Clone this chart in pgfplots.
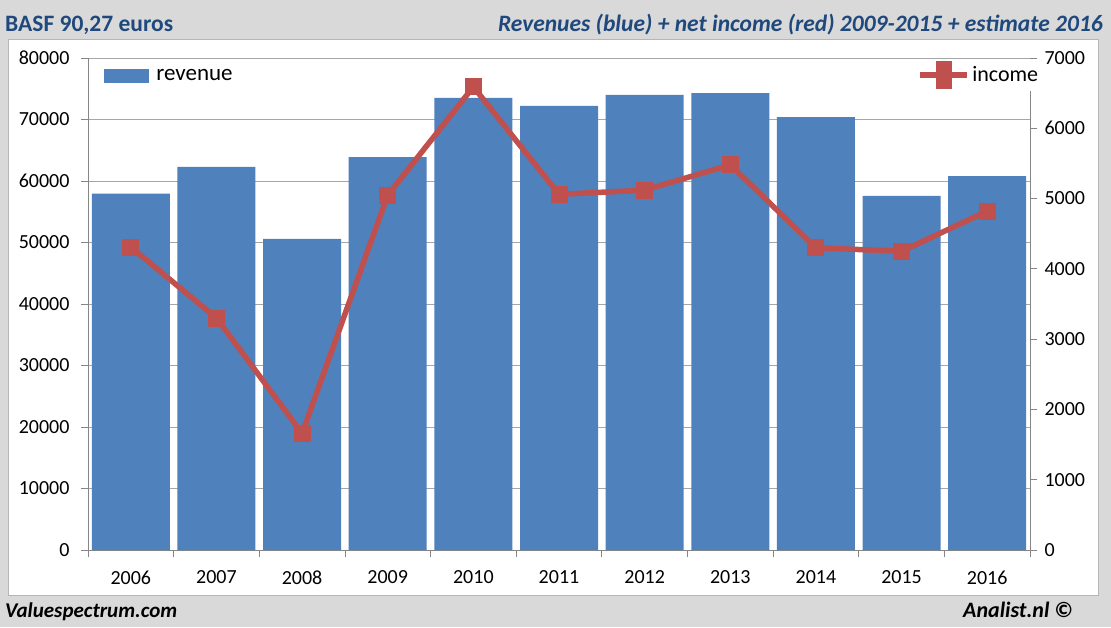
\documentclass[border=0pt]{standalone}
\usepackage{pgfplots}
\pgfplotsset{compat=1.18}
\usepackage{fontspec}
\setmainfont{Carlito}
\definecolor{bg}{HTML}{D9D9D9}
\definecolor{titleblue}{HTML}{1F497D}
\definecolor{barblue}{HTML}{4F81BD}
\definecolor{linered}{HTML}{C0504D}
\definecolor{gridgray}{HTML}{A6A6A6}
\definecolor{axgray}{HTML}{868686}
\begin{document}
\begin{tikzpicture}
\fill[bg] (0pt,0pt) rectangle (1111pt,627pt);
\fill[white,draw=axgray!60] (8pt,32pt) rectangle (1098pt,587.5pt);
\node[anchor=base west, font=\fontsize{23.5}{28}\selectfont\bfseries, text=titleblue, inner sep=0] at (5pt,595pt) {BASF 90,27 euros};
\node[anchor=base east, font=\fontsize{23.5}{28}\selectfont\bfseries\itshape, text=titleblue, inner sep=0] at (1103pt,595pt) {Revenues (blue) + net income (red) 2009-2015 + estimate 2016};
\node[anchor=base west, font=\fontsize{21}{25}\selectfont\bfseries\itshape, text=black, inner sep=0] at (5pt,10pt) {Valuespectrum.com};
\node[anchor=base east, font=\fontsize{22}{26}\selectfont\bfseries\itshape, text=black, inner sep=0] at (1073pt,10pt) {Analist.nl ©};

\begin{axis}[
  at={(88pt,77pt)}, anchor=south west, scale only axis,
  width=942pt, height=492pt,
  xmin=-0.5, xmax=10.5, ymin=0, ymax=80000,
  axis y line*=left, axis x line*=bottom,
  axis line style={axgray, line width=0.8pt},
  ytick={0,10000,...,80000},
  ymajorgrids, grid style={gridgray, line width=1pt},
  xtick={0,...,10},
  xticklabels={2006,2007,2008,2009,2010,2011,2012,2013,2014,2015,2016},
  major x tick style={draw=none},
  minor xtick={-0.5,0.5,...,10.5},
  minor x tick style={axgray, line width=0.8pt},
  minor tick length=7pt,
  major tick length=7pt,
  tick align=outside,
  ytick style={axgray, line width=0.8pt},
  scaled y ticks=false,
  ticklabel style={font=\fontsize{20}{24}\selectfont},
  xticklabel style={yshift=-10pt},
  yticklabel style={xshift=-8pt, /pgf/number format/.cd, fixed, 1000 sep={}, assume math mode=true},
  legend style={at={(0.015,0.985)}, anchor=north west, draw=none, fill=white,
    font=\fontsize{23}{26}\selectfont, inner sep=2pt},
  legend cell align=left,
]
\addplot[ybar, bar width=78pt, fill=barblue, draw=none, bar shift=0pt,
  legend image code/.code={\fill[barblue] (0pt,-7pt) rectangle (45pt,7pt); \path (50pt,0pt);}]
  coordinates {(0,57950) (1,62300) (2,50600) (3,63900) (4,73500) (5,72200) (6,74000) (7,74300) (8,70400) (9,57600) (10,60800)};
\addlegendentry{revenue}
\end{axis}

\begin{axis}[
  at={(88pt,77pt)}, anchor=south west, scale only axis,
  width=942pt, height=492pt,
  xmin=-0.5, xmax=10.5, ymin=0, ymax=7000,
  axis y line*=right, axis x line=none,
  axis line style={axgray, line width=0.8pt},
  ytick={0,1000,...,7000},
  tick align=outside, major tick length=7pt,
  ytick style={axgray, line width=0.8pt},
  scaled y ticks=false,
  ticklabel style={font=\fontsize{20}{24}\selectfont},
  yticklabel style={xshift=4pt, /pgf/number format/.cd, fixed, 1000 sep={}, assume math mode=true},
  legend style={at={(0.878,0.998)}, anchor=north west, draw=none, fill=white,
    font=\fontsize{22}{25}\selectfont, inner sep=2pt},
]
\addplot[linered, line width=5.5pt, mark=square*, mark size=8pt, mark options={fill=linered, draw=linered, line width=0pt},
  legend image code/.code={\draw[linered, line width=6pt] (0pt,0pt) -- (47pt,0pt); \fill[linered] (18pt,-11pt) rectangle (29pt,11pt);}]
  coordinates {(0,4310) (1,3300) (2,1660) (3,5050) (4,6590) (5,5060) (6,5120) (7,5480) (8,4300) (9,4250) (10,4820)};
\addlegendentry{income}
\end{axis}
\end{tikzpicture}
\end{document}
